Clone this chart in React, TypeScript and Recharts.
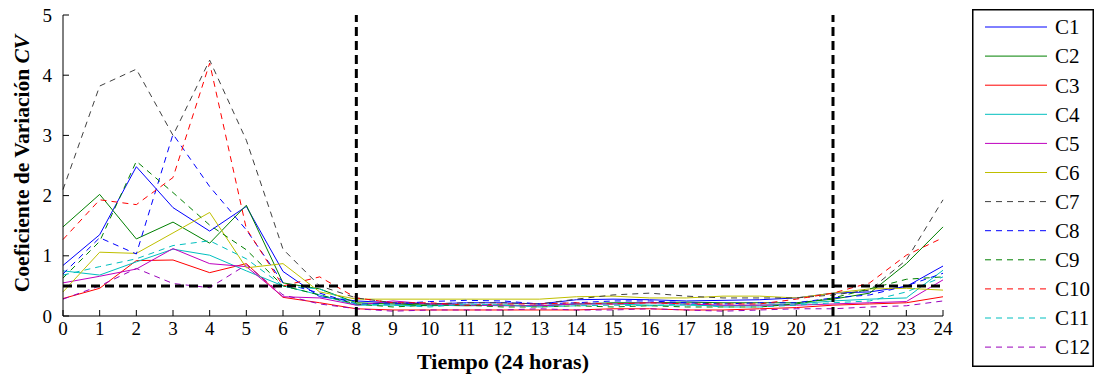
import { Line, LineChart, ReferenceLine, XAxis, YAxis } from "recharts"

const HOURS = [0, 1, 2, 3, 4, 5, 6, 7, 8, 9, 10, 11, 12, 13, 14, 15, 16, 17, 18, 19, 20, 21, 22, 23, 24]
const Y_TICKS = [0, 1, 2, 3, 4, 5]

const SERIES_NAMES = ["C1", "C2", "C3", "C4", "C5", "C6", "C7", "C8", "C9", "C10", "C11", "C12"]

// coefficient of variation per hour
const C1 = [0.84, 1.35, 2.48, 1.8, 1.41, 1.82, 0.74, 0.32, 0.25, 0.22, 0.2, 0.22, 0.22, 0.2, 0.27, 0.28, 0.27, 0.25, 0.26, 0.27, 0.3, 0.38, 0.4, 0.49, 0.83]
const C2 = [1.48, 2.02, 1.28, 1.56, 1.21, 1.84, 0.55, 0.45, 0.22, 0.2, 0.18, 0.17, 0.18, 0.17, 0.2, 0.22, 0.22, 0.23, 0.22, 0.22, 0.22, 0.28, 0.38, 0.87, 1.48]
const C3 = [0.29, 0.46, 0.92, 0.93, 0.72, 0.87, 0.31, 0.22, 0.12, 0.1, 0.1, 0.1, 0.1, 0.1, 0.1, 0.12, 0.12, 0.1, 0.1, 0.12, 0.14, 0.18, 0.2, 0.22, 0.32]
const C4 = [0.75, 0.68, 0.9, 1.11, 1.01, 0.75, 0.5, 0.35, 0.18, 0.18, 0.17, 0.18, 0.18, 0.17, 0.2, 0.2, 0.18, 0.18, 0.17, 0.18, 0.2, 0.25, 0.28, 0.3, 0.76]
const C5 = [0.55, 0.66, 0.78, 1.12, 0.87, 0.82, 0.32, 0.3, 0.18, 0.25, 0.2, 0.18, 0.17, 0.17, 0.2, 0.2, 0.22, 0.2, 0.18, 0.18, 0.18, 0.2, 0.22, 0.24, 0.6]
const C6 = [0.4, 1.06, 1.04, 1.38, 1.72, 0.8, 0.87, 0.4, 0.28, 0.28, 0.28, 0.28, 0.28, 0.28, 0.32, 0.33, 0.3, 0.3, 0.33, 0.33, 0.3, 0.38, 0.45, 0.46, 0.43]
const C7 = [2.1, 3.82, 4.1, 3.0, 4.25, 2.92, 1.11, 0.5, 0.3, 0.22, 0.2, 0.22, 0.22, 0.2, 0.28, 0.35, 0.38, 0.33, 0.3, 0.3, 0.3, 0.35, 0.43, 0.93, 1.93]
const C8 = [0.7, 1.3, 1.03, 3.02, 2.15, 1.43, 0.55, 0.38, 0.2, 0.2, 0.24, 0.26, 0.25, 0.2, 0.22, 0.25, 0.25, 0.22, 0.2, 0.22, 0.22, 0.3, 0.35, 0.5, 0.71]
const C9 = [0.63, 1.24, 2.57, 2.05, 1.51, 1.1, 0.5, 0.35, 0.2, 0.15, 0.18, 0.18, 0.15, 0.15, 0.17, 0.15, 0.17, 0.15, 0.15, 0.15, 0.2, 0.3, 0.45, 0.61, 0.65]
const C10 = [1.27, 1.93, 1.85, 2.3, 4.2, 1.45, 0.5, 0.65, 0.3, 0.22, 0.22, 0.18, 0.2, 0.2, 0.22, 0.2, 0.22, 0.2, 0.2, 0.2, 0.28, 0.38, 0.55, 1.01, 1.3]
const C11 = [0.68, 0.82, 0.95, 1.17, 1.25, 0.95, 0.5, 0.45, 0.2, 0.18, 0.15, 0.2, 0.18, 0.15, 0.17, 0.18, 0.17, 0.2, 0.15, 0.15, 0.18, 0.22, 0.25, 0.4, 0.65]
const C12 = [0.28, 0.5, 0.79, 0.54, 0.47, 0.85, 0.35, 0.2, 0.12, 0.08, 0.1, 0.1, 0.1, 0.12, 0.1, 0.1, 0.12, 0.1, 0.08, 0.1, 0.12, 0.12, 0.15, 0.17, 0.25]

const SERIES_VALUES = [C1, C2, C3, C4, C5, C6, C7, C8, C9, C10, C11, C12]
const SERIES_COLORS = [
  "#0000ff", "#008000", "#ff0000", "#00bfbf", "#bf00bf", "#bfbf00",
  "#404040", "#0000ff", "#008000", "#ff0000", "#00bfbf", "#9900bb",
]
const SERIES_DASHED = [false, false, false, false, false, false, true, true, true, true, true, true]

const CV_THRESHOLD = 0.5
const DAY_BOUNDS = [8, 21]

const FONT = "'Liberation Serif', 'Times New Roman', serif"

const chartData = HOURS.map((h, i) => {
  const row: Record<string, number> = { h }
  SERIES_NAMES.forEach((name, s) => {
    row[name] = SERIES_VALUES[s][i]
  })
  return row
})

function BottomTick({ x, y, payload }: any) {
  return (
    <g>
      <line x1={x} x2={x} y1={y} y2={y - 6} stroke="#000" />
      <text x={x} y={y + 19} textAnchor="middle" fontSize={19} fontFamily={FONT} fill="#000">
        {payload.value}
      </text>
    </g>
  )
}

function TopTick({ x, y }: any) {
  return <line x1={x} x2={x} y1={y} y2={y + 6} stroke="#000" />
}

function LeftTick({ x, y, payload }: any) {
  return (
    <g>
      <line x1={x} x2={x + 6} y1={y} y2={y} stroke="#000" />
      <text x={x - 11} y={y} dy="0.35em" textAnchor="end" fontSize={19} fontFamily={FONT} fill="#000">
        {payload.value}
      </text>
    </g>
  )
}

function RightTick({ x, y }: any) {
  return <line x1={x} x2={x - 6} y1={y} y2={y} stroke="#000" />
}

function YTitle({ viewBox }: any) {
  const cx = viewBox.x + 21
  const cy = viewBox.y + viewBox.height / 2 - 2
  return (
    <text
      x={cx}
      y={cy}
      transform={`rotate(-90, ${cx}, ${cy})`}
      textAnchor="middle"
      dy="0.35em"
      fontSize={21.5}
      fontWeight="bold"
      fontFamily={FONT}
      fill="#000"
    >
      Coeficiente de Variación <tspan fontStyle="italic">CV</tspan>
    </text>
  )
}

function XTitle({ viewBox }: any) {
  return (
    <text
      x={viewBox.x + viewBox.width / 2}
      y={viewBox.y + 45}
      dy="0.35em"
      textAnchor="middle"
      fontSize={22}
      fontWeight="bold"
      fontFamily={FONT}
      fill="#000"
    >
      Tiempo (24 horas)
    </text>
  )
}

function SeriesLegend() {
  return (
    <svg
      width={122}
      height={358}
      style={{ position: "absolute", left: 972, top: 9 }}
    >
      <rect x={0.75} y={0.75} width={120.5} height={356.5} fill="#fff" stroke="#000" strokeWidth={1.5} />
      {SERIES_NAMES.map((name, i) => {
        const y = 18 + i * 29.1
        return (
          <g key={name}>
            <line
              x1={13}
              x2={75}
              y1={y}
              y2={y}
              stroke={SERIES_COLORS[i]}
              strokeDasharray={SERIES_DASHED[i] ? "6 5" : undefined}
            />
            <text x={83} y={y} dy="0.35em" fontSize={21} fontFamily={FONT} fill="#000">
              {name}
            </text>
          </g>
        )
      })}
    </svg>
  )
}

export default function App() {
  return (
    <div style={{ position: "absolute", left: 0, top: 0, width: 1094, height: 376, background: "#fff" }}>
      <LineChart
        width={1094}
        height={376}
        data={chartData}
        margin={{ top: 15, right: 151, bottom: 0, left: 0 }}
      >
        <XAxis
          dataKey="h"
          type="number"
          domain={[0, 24]}
          ticks={HOURS}
          interval={0}
          height={60}
          tickSize={0}
          tickMargin={0}
          tickLine={false}
          axisLine={{ stroke: "#000" }}
          tick={<BottomTick />}
          label={<XTitle />}
        />
        <XAxis
          xAxisId="top"
          orientation="top"
          dataKey="h"
          type="number"
          domain={[0, 24]}
          ticks={HOURS}
          interval={0}
          height={0}
          tickSize={0}
          tickMargin={0}
          tickLine={false}
          axisLine={{ stroke: "#000" }}
          tick={<TopTick />}
        />
        <YAxis
          type="number"
          domain={[0, 5]}
          ticks={Y_TICKS}
          interval={0}
          width={63}
          tickSize={0}
          tickMargin={0}
          tickLine={false}
          axisLine={{ stroke: "#000" }}
          tick={<LeftTick />}
          label={<YTitle />}
        />
        <YAxis
          yAxisId="right"
          orientation="right"
          type="number"
          domain={[0, 5]}
          ticks={Y_TICKS}
          interval={0}
          width={0}
          tickSize={0}
          tickMargin={0}
          tickLine={false}
          axisLine={{ stroke: "#000" }}
          tick={<RightTick />}
        />
        {SERIES_NAMES.map((name, i) => (
          <Line
            key={name}
            type="linear"
            dataKey={name}
            name={name}
            stroke={SERIES_COLORS[i]}
            strokeWidth={1}
            strokeDasharray={SERIES_DASHED[i] ? "6 5" : undefined}
            dot={false}
            activeDot={false}
            isAnimationActive={false}
          />
        ))}
        <ReferenceLine y={CV_THRESHOLD} stroke="#000" strokeWidth={3} strokeDasharray="9 5" />
        {DAY_BOUNDS.map((h) => (
          <ReferenceLine key={h} x={h} stroke="#000" strokeWidth={3} strokeDasharray="9 5" />
        ))}
      </LineChart>
      <SeriesLegend />
    </div>
  )
}
